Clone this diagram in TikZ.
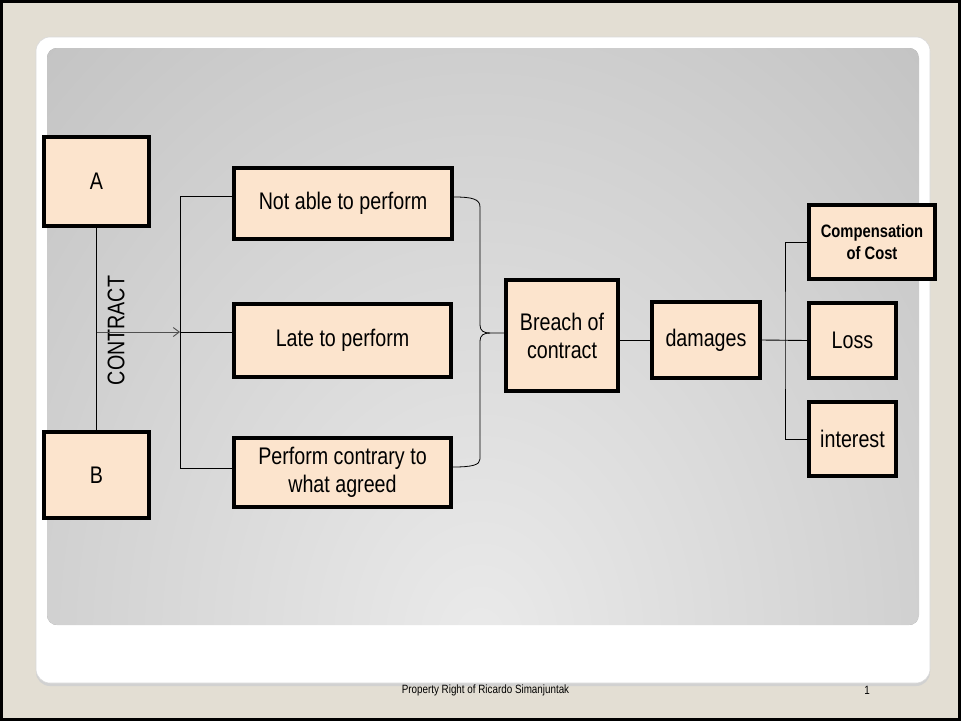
\documentclass[tikz,border=0pt]{standalone}
\usepackage{fontspec}
\setmainfont{Liberation Sans}[FakeStretch=0.82]
\usetikzlibrary{arrows.meta}

\definecolor{slidebeige}{HTML}{E3DED3}
\definecolor{peach}{HTML}{FCE4CD}
\definecolor{glowA}{HTML}{EAEAEA}
\definecolor{glowB}{HTML}{D3D3D3}
\definecolor{glowC}{HTML}{BBBBBB}
\definecolor{glowD}{HTML}{A2A2A2}
\definecolor{glowE}{HTML}{979797}
\definecolor{arrowgray}{HTML}{505050}
\pgfdeclareradialshading{panelglow}{\pgfpoint{0bp}{0bp}}{color(0bp)=(glowA); color(15bp)=(glowB); color(30bp)=(glowC); color(42bp)=(glowD); color(50bp)=(glowE)}

\tikzset{
  box/.style={draw=black, line width=4.2pt, fill=peach, align=center, inner sep=0pt,
    font=\fontsize{24}{28}\selectfont},
  link/.style={draw=black, line width=0.9pt},
}

\begin{document}
\begin{tikzpicture}[x=1pt, y=-1pt]
\useasboundingbox (0,0) rectangle (961,721);

% slide background and frame
\fill[slidebeige] (0,0) rectangle (961,721);
\draw[black, line width=3pt] (1.5,1.5) rectangle (959.5,719.5);

% white content panel with a soft lower edge
\fill[black!18, rounded corners=14pt] (36,39) rectangle (930,686);
\fill[white, rounded corners=14pt] (36,37) rectangle (930,683);
\draw[black!15, line width=0.6pt, rounded corners=14pt] (36,37) rectangle (930,683);

% shaded grey field, lightest near the bottom middle
\begin{scope}
  \clip[rounded corners=10pt] (47,48) rectangle (919,625);
  \fill[glowE] (47,48) rectangle (919,625);
  \shade[shading=panelglow] (480,640) ellipse (660 and 825);
\end{scope}

% parties
\node[box, minimum width=105pt, minimum height=89pt] (A) at (96.5,181.5) {A};
\node[box, minimum width=105pt, minimum height=86pt] (B) at (96.5,475) {B};

% kinds of failure
\node[box, minimum width=218pt, minimum height=71pt] (nap) at (343,203.5) {Not able to perform};
\node[box, minimum width=217pt, minimum height=73pt] (late) at (342.5,340.5) {Late to perform};
\node[box, minimum width=217pt, minimum height=69pt] (pcw) at (342.5,472.5) {Perform contrary to\\what agreed};

% breach and its consequences
\node[box, minimum width=112pt, minimum height=111pt] (breach) at (562,335.5) {Breach of\\contract};
\node[box, minimum width=108pt, minimum height=76pt] (damages) at (706,340) {damages};
\node[box, minimum width=126pt, minimum height=74pt, font=\bfseries\fontsize{18}{22}\selectfont] (comp) at (872,242) {Compensation\\of Cost};
\node[box, minimum width=87pt, minimum height=75pt] (loss) at (852.5,340.5) {Loss};
\node[box, minimum width=87pt, minimum height=74pt] (interest) at (852.5,439) {interest};

% contract between A and B
\draw[link] (A.south) -- (B.north);
\node[rotate=90, font=\fontsize{24}{28}\selectfont, inner sep=0pt] (contract) at (116,330.5) {CONTRACT};
\coordinate (hub) at (180,332);
\draw[arrowgray, line width=0.9pt, -{Straight Barb[length=6pt,width=9pt,line width=0.9pt]}] (A.south |- hub) -- (hub);

% fan-out to the three failures
\coordinate (fanTop) at ([yshift=7.5pt]nap.west -| hub);
\coordinate (fanBot) at ([yshift=4.5pt]pcw.west -| hub);
\draw[link] ([yshift=7.5pt]nap.west) -- (fanTop) -- (fanBot) -- ([yshift=4.5pt]pcw.west);
\draw[link] (hub) -- (hub -| late.west);

% right brace gathering the failures into the breach
\coordinate (braceTop) at ([yshift=6.5pt]nap.east);
\coordinate (braceBot) at ([yshift=5.5pt]pcw.east);
\coordinate (braceTip) at ([yshift=2.5pt]breach.west);
\draw[link, line width=0.8pt] (braceTop) .. controls (472,197) and (480,199) .. (480,207)
  -- (480,325) .. controls (480,331) and (484,333) .. (490,333) -- (braceTip);
\draw[link, line width=0.8pt] (490,333) .. controls (484,333) and (480,335) .. (480,341)
  -- (480,459) .. controls (480,465) and (472,467) .. (braceBot);

% breach to damages
\draw[link] (breach.east |- damages.west) -- (damages.west);

% damages to its three heads
\coordinate (hub2) at (785,340);
\draw[link] (damages.east) -- (loss.west);
\draw[link] (comp.west) -| (hub2) |- (interest.west);

% footer
\node[font=\fontsize{12}{14}\selectfont, inner sep=0pt] (footer) at (485.5,690) {Property Right of Ricardo Simanjuntak};
\node[font=\fontsize{12}{14}\selectfont, inner sep=0pt] (pageno) at (867,690) {1};
\end{tikzpicture}
\end{document}
